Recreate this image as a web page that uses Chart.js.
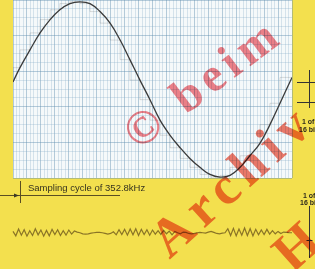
<html><head>
<meta charset="UTF-8">
<title>Sampling cycle</title>
<script src="https://cdn.jsdelivr.net/npm/chart.js"></script>
<style>
html, body {
  margin: 0;
  padding: 0;
  background: #f3e04e;
  overflow: hidden;
}
#chart {
  display: block;
}
</style>
</head>
<body>
<canvas id="chart" width="315" height="269"></canvas>

<script>
// analogue wave, time 0..100 across the grid panel, amplitude -1..1
const sineTime = [0, 2.5, 6.1, 9.7, 13.3, 16.8, 20.4, 24, 27.6, 31.2, 34.8, 38.4, 41.9, 45.5, 49.1,
  52.7, 56.3, 59.9, 63.4, 67, 70.6, 74.2, 77.8, 81.4, 84.9, 88.5, 92.1, 95.7, 100];
const sineValue = [0.08, 0.24, 0.44, 0.63, 0.78, 0.89, 0.96, 0.98, 0.96, 0.87, 0.74, 0.55, 0.33, 0.10, -0.12,
  -0.35, -0.52, -0.66, -0.78, -0.88, -0.96, -0.99, -0.97, -0.88, -0.75, -0.61, -0.40, -0.16, 0.13];

// noise trace under the panel, one value per time step
const noiseValue = [
  0.4, -0.9, 1.1, -0.7, 0.9, -1, 0.6, -0.8, 1.2, -0.6, 0.8, -1, 0.7, -0.9, 1, -0.5, 0.9, -0.8, 0.6, -0.7, 0.8, -0.4, 0.5,
  0.2, 0, -0.3, -0.4, -0.3, -0.1, 0, 0.1, 0.1, 0, -0.2, -0.4, -0.2,
  0.3, -0.6, 0.9, -0.5, 1, -0.7, 1.1, -0.6, 1.2, -0.8, 1, -0.5, 0.9, -0.7, 0.8, -0.4, 0.6,
  -0.5, 0.7, -0.3, 0.5, -0.6, 0.4, 0, -0.3, 0.2, 0.1, -0.2, -0.3, -0.2, 0, 0.1, 0, -0.1, 0.2, 0.4, 0.1, -0.2, -0.3, -0.1, 0,
  1.2, -0.8, 1.3, -0.9, 1.1, -0.7, 1.4, -0.8, 1.2, -0.9, 1, -0.6, 0.8, -0.5, 1, -0.4, 0.6, -0.3, 0.4, -0.2, 0.2,
  0.1, 0, 0
];

const caption = 'Sampling cycle of 352.8kHz';

const sinePoints = sineTime.map((t, i) => ({ x: t, y: sineValue[i] }));
const noisePoints = noiseValue.map((v, i) => ({ x: i, y: v }));

const gridColor = (ctx) => {
  const i = ctx.index || 0;
  return i % 4 === 0 ? 'rgba(95,140,175,0.55)' : 'rgba(130,170,200,0.36)';
};

const paper = {
  id: 'paper',
  beforeDraw(chart) {
    const c = chart.ctx;
    const a = chart.chartArea;
    c.save();
    c.fillStyle = '#f3e04e';
    c.fillRect(0, 0, chart.width, chart.height);
    c.fillStyle = '#f5f9fa';
    c.fillRect(a.left, a.top, a.right - a.left, a.bottom - a.top);
    c.restore();
  },
  afterDatasetsDraw(chart) {
    const c = chart.ctx;
    const a = chart.chartArea;
    c.save();
    // caption and sampling arrow
    c.fillStyle = '#35321f';
    c.font = '9.5px "Liberation Sans", Arial, sans-serif';
    c.textBaseline = 'alphabetic';
    c.fillText(caption, a.left + 15, a.bottom + 13);
    c.strokeStyle = '#5a4e22';
    c.lineWidth = 1;
    c.beginPath();
    c.moveTo(0, a.bottom + 17.5); c.lineTo(a.left + 107, a.bottom + 17.5);
    c.moveTo(a.left + 7.5, a.bottom + 3); c.lineTo(a.left + 7.5, a.bottom + 25);
    c.stroke();
    c.fillStyle = '#3b3826';
    c.beginPath();
    c.moveTo(a.left + 6, a.bottom + 17.5); c.lineTo(a.left + 1, a.bottom + 15.5); c.lineTo(a.left + 1, a.bottom + 19.5);
    c.fill();

    // right margin markers
    const rx = a.right + 17.5;
    c.strokeStyle = '#333';
    c.beginPath();
    c.moveTo(rx, 70); c.lineTo(rx, 108);
    c.moveTo(a.right + 5, 82.5); c.lineTo(315, 82.5);
    c.moveTo(a.right + 5, 102.5); c.lineTo(315, 102.5);
    c.moveTo(rx, a.bottom + 28); c.lineTo(rx, a.bottom + 80);
    c.moveTo(rx - 3, a.bottom + 62.5); c.lineTo(rx + 3, a.bottom + 62.5);
    c.stroke();
    c.font = 'bold 7px "Liberation Sans", Arial, sans-serif';
    c.fillStyle = '#2e2a1c';
    c.fillText('1 of', a.right + 10, 124);
    c.fillText('16 bit', a.right + 7, 132);
    c.fillText('1 of', a.right + 11, a.bottom + 20);
    c.fillText('16 bit', a.right + 8, a.bottom + 27);
    c.restore();
  },
  afterDraw(chart) {
    const c = chart.ctx;
    c.save();
    c.globalCompositeOperation = 'multiply';
    c.fillStyle = '#f4828a';
    c.font = 'bold 48px "Liberation Serif", "DejaVu Serif", serif';
    c.textBaseline = 'middle';
    c.letterSpacing = '6px';
    c.save();
    c.translate(145, 130);
    c.rotate(-37 * Math.PI / 180);
    c.fillText('© beim', -18, 0);
    c.restore();

    c.fillStyle = '#f27a6a';
    c.font = 'bold 54px "Liberation Serif", "DejaVu Serif", serif';
    c.letterSpacing = '7px';
    c.save();
    c.translate(175, 236);
    c.rotate(-42 * Math.PI / 180);
    c.fillText('Archiv', -20, 0);
    c.restore();

    c.save();
    c.translate(298, 250);
    c.rotate(-42 * Math.PI / 180);
    c.fillText('H', -20, 0);
    c.restore();
    c.restore();
  }
};

new Chart(document.getElementById('chart'), {
  type: 'line',
  data: {
    datasets: [
      {
        data: sinePoints,
        borderColor: '#3a3a3a',
        borderWidth: 1.3,
        pointRadius: 0,
        tension: 0.4
      },
      {
        data: sinePoints,
        borderColor: 'rgba(70,70,70,0.22)',
        borderWidth: 0.8,
        pointRadius: 0,
        stepped: 'after'
      },
      {
        data: noisePoints,
        yAxisID: 'yNoise',
        borderColor: '#8a7426',
        borderWidth: 1.2,
        pointRadius: 0,
        tension: 0,
        clip: false
      }
    ]
  },
  options: {
    responsive: false,
    animation: false,
    layout: { padding: { left: 13, right: 23, top: 0, bottom: 91 } },
    plugins: { legend: { display: false }, tooltip: { enabled: false } },
    scales: {
      x: {
        type: 'linear',
        min: 0,
        max: 100,
        ticks: { display: false, stepSize: 1.25, maxTicksLimit: 1000 },
        grid: { color: gridColor, lineWidth: 0.8, drawTicks: false },
        border: { display: false }
      },
      y: {
        min: -1,
        max: 1,
        ticks: { display: false, stepSize: 0.1 },
        grid: { color: gridColor, lineWidth: 0.8, drawTicks: false },
        border: { display: false }
      },
      yNoise: {
        display: false,
        min: 16,
        max: 68
      }
    }
  },
  plugins: [paper]
});
</script>
</body></html>
